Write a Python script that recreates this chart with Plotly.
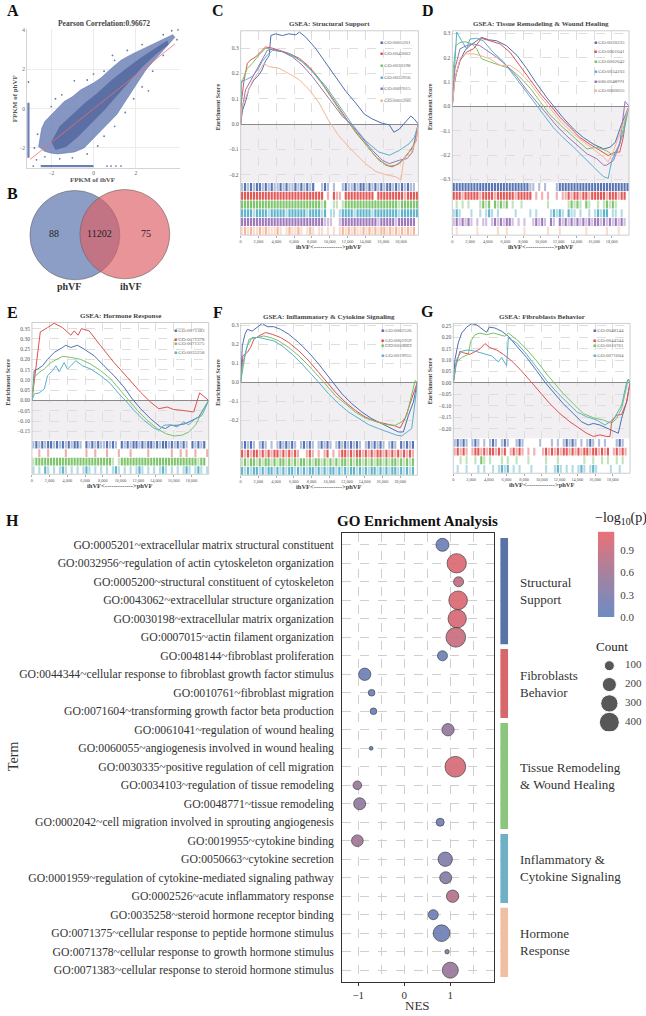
import plotly.graph_objects as go

W, H = 646, 1016
SERIF = "Liberation Serif"
XMAX = 19.95  # ranked gene list length (thousands)

# ---------------- A: FPKM correlation ----------------
pearson_r = "0.96672"
cloud_x = [-2.6, -2.45, -2.3, -1.9, -1.4, -1.0, -0.6, 0.0, 0.35, 0.8, 1.3, 1.8, 2.2, 2.6, 3.0, 3.4, 3.75,
           3.85, 3.5, 3.15, 2.8, 2.5, 2.1, 1.75, 1.4, 1.1, 0.7, 0.35, -0.05, -0.45, -0.9, -1.25, -1.7, -2.05, -2.35]
cloud_y = [-1.95, -1.0, -0.65, -0.2, 0.35, 0.6, 0.95, 1.3, 1.55, 2.0, 2.45, 2.75, 2.95, 3.15, 3.35, 3.55, 3.75,
           3.62, 3.2, 2.8, 2.35, 2.0, 1.35, 0.8, 0.2, -0.3, -0.75, -1.15, -1.6, -2.0, -2.2, -2.25, -2.3, -2.25, -2.15]
core_x = [-2.0, -1.6, -1.0, -0.4, 0.2, 0.8, 1.5, 2.2, 2.9, 3.5, 3.55, 2.95, 2.3, 1.7, 1.1, 0.5, -0.1, -0.7, -1.3, -1.8]
core_y = [-1.7, -0.9, -0.3, 0.3, 0.8, 1.4, 2.0, 2.55, 3.05, 3.45, 3.25, 2.75, 2.1, 1.35, 0.6, -0.1, -0.75, -1.4, -1.95, -2.1]
spread_x = [-0.91, 0.0, -3.08, -2.8, -2.65, -2.0, -1.5, -0.3, 0.5, 1.0, 1.6, 2.3, 3.3, 4.0, 3.7, 3.95, 3.3, 2.8,
            2.3, 1.9, 1.5, 1.0, 0.5, 0.2, -0.3, -1.0, -1.6, -2.3, -2.7, 2.6, -1.8, 0.9, 0.64, 0.83, 1.06, 1.3, -2.85]
spread_y = [1.41, 1.75, 1.35, -2.0, -1.3, 0.1, 0.7, 1.45, 1.9, 2.45, 2.95, 3.25, 3.75, 4.0, 3.95, 3.5, 2.7, 1.9,
            1.1, 0.5, -0.2, -0.9, -1.4, -1.9, -2.3, -2.5, -2.55, -2.45, -2.6, 0.9, 0.5, 2.7, -2.92, -2.92, -2.92, -2.92, -2.92]
floor_left_x = [-3.08, -3.08]
floor_left_y = [-2.5, 0.3]
floor_bottom_x = [-2.5, 0.0]
floor_bottom_y = [-2.92, -2.92]
fit_x = [-3.0, 3.85]
fit_y = [-2.58, 3.28]
a_xticks = [-2, 0, 2]
a_yticks = [-2, 0, 2, 4]

# ---------------- B: Venn ----------------
venn_sets = ["phVF", "ihVF"]
venn_counts = ["88", "11202", "75"]

# ---------------- C-G: GSEA running scores (x in thousands of ranks) ----------------
gsea_colors = ["#4f6faf", "#e0504f", "#79c165", "#5aafc9", "#9a73b8", "#f4b496"]
rank_ticks = [0, 2, 4, 6, 8, 10, 12, 14, 16, 18]
rank_ticktext = ["0", "2,000", "4,000", "6,000", "8,000", "10,000", "12,000", "14,000", "16,000", "18,000"]

C_curves = {
    "GO:0005201": ([0, 0.19, 0.56, 0.94, 1.5, 2.06, 2.4, 2.8, 3.2, 3.4, 3.9, 4.7, 5.4, 6.2, 6.6, 7.3, 8.4, 9.6, 10.7, 11.8, 12.9, 13.9, 14.8, 15.9, 16.7, 17.2, 17.8, 18.5, 19.1, 19.5, 19.95],
                   [0, 0.052, 0.09, 0.14, 0.175, 0.195, 0.214, 0.25, 0.27, 0.35, 0.357, 0.35, 0.357, 0.353, 0.364, 0.344, 0.3, 0.24, 0.18, 0.13, 0.084, 0.039, 0.02, 0.003, -0.003, -0.032, -0.02, 0.006, 0.032, 0.02, 0]),
    "GO:0043062": ([0, 0.1, 0.37, 0.75, 1.1, 1.7, 2.25, 2.8, 3.6, 4.3, 5.4, 6.6, 7.7, 8.8, 9.9, 11, 12, 12.9, 14, 15.2, 16.3, 17, 17.8, 18.5, 19.3, 19.7, 19.95],
                   [0, 0.09, 0.17, 0.24, 0.253, 0.266, 0.286, 0.305, 0.3, 0.292, 0.28, 0.26, 0.227, 0.18, 0.123, 0.065, 0.013, -0.032, -0.078, -0.13, -0.162, -0.169, -0.156, -0.13, -0.09, -0.065, 0]),
    "GO:0030198": ([0, 0.07, 0.37, 0.75, 1.3, 2.06, 2.8, 3.6, 4.7, 5.8, 6.9, 8.05, 9.2, 10.3, 11.4, 12.2, 13.3, 14.4, 15.5, 16.7, 17.4, 18.2, 18.7, 19.3, 19.95],
                   [0, 0.156, 0.188, 0.22, 0.24, 0.273, 0.3, 0.296, 0.286, 0.27, 0.247, 0.208, 0.156, 0.097, 0.039, 0.003, -0.045, -0.097, -0.143, -0.166, -0.162, -0.143, -0.117, -0.097, 0]),
    "GO:0032956": ([0, 0.07, 0.56, 1.3, 1.9, 2.4, 3.0, 3.6, 4.7, 5.8, 6.9, 8.05, 9.55, 11, 12.5, 14, 15.5, 16.7, 17.8, 18.9, 19.5, 19.95],
                   [0, 0.17, 0.175, 0.188, 0.214, 0.247, 0.273, 0.292, 0.286, 0.273, 0.247, 0.208, 0.15, 0.078, 0, -0.065, -0.11, -0.123, -0.104, -0.078, -0.052, 0]),
    "GO:0007015": ([0, 0.19, 0.56, 1.1, 1.7, 2.4, 3.0, 3.6, 4.7, 5.8, 6.9, 8.05, 9.2, 10.3, 11.4, 12.4, 13.7, 14.8, 15.9, 16.7, 17.8, 18.7, 19.3, 19.95],
                   [0, 0.065, 0.136, 0.17, 0.208, 0.253, 0.292, 0.296, 0.286, 0.266, 0.234, 0.188, 0.136, 0.084, 0.032, 0, -0.058, -0.104, -0.143, -0.156, -0.143, -0.136, -0.11, 0]),
    "GO:0005200": ([0, 0.1, 0.56, 1.3, 2.06, 2.6, 3.2, 4.3, 5.4, 6.6, 7.7, 8.8, 9.9, 11, 12.5, 14, 15.2, 16.3, 17.4, 18, 18.35, 19.1, 19.7, 19.95],
                   [0, 0.065, 0.104, 0.169, 0.208, 0.24, 0.227, 0.221, 0.2, 0.175, 0.136, 0.084, 0.013, -0.045, -0.104, -0.156, -0.188, -0.2, -0.208, -0.22, -0.13, -0.117, -0.065, 0]),
}
C_rugs = [
    "+#+#+##+#+#++#+#++#+#+#+#  +#+ +  +#++#+##+#+#+#+##+#+#+#++",
    "############################ + #++ ########## #########+####",
    "###########################+#  ++ +##################+######",
    "####+####+#####+######+####+# ++ +####+#####+########+######",
    "############################+++  +############+#####+######",
    "+#+#++#+#+++#+ +#++#+ +#+ ++ + + +#+#+#++#+#+#+##+#+#+#+#+#",
]

D_curves = {
    "GO:0030335": ([0, 0.11, 0.5, 0.87, 1.43, 2, 2.75, 3.3, 4.1, 5, 6.1, 7.3, 8.4, 9.5, 10.7, 11.6, 12.5, 13.7, 14.8, 15.9, 17.1, 17.8, 18.4, 19.1, 19.7, 19.95],
                   [0, 0.074, 0.141, 0.188, 0.229, 0.249, 0.269, 0.283, 0.273, 0.269, 0.249, 0.209, 0.155, 0.094, 0.034, -0.007, -0.047, -0.094, -0.128, -0.155, -0.175, -0.168, -0.148, -0.074, -0.02, 0]),
    "GO:0061041": ([0, 0.3, 0.87, 1.6, 2.4, 2.9, 3.3, 4.25, 5.4, 6.5, 7.6, 8.8, 9.9, 11, 12.2, 13.3, 14.4, 15.5, 16.7, 17.6, 18.4, 18.9, 19.3, 19.6, 19.95],
                   [0, 0.114, 0.188, 0.222, 0.236, 0.262, 0.279, 0.269, 0.256, 0.222, 0.168, 0.108, 0.054, 0.007, -0.047, -0.087, -0.128, -0.155, -0.182, -0.202, -0.188, -0.188, -0.128, -0.04, 0]),
    "GO:0002042": ([0, 0.11, 0.4, 0.87, 1.43, 2.2, 2.75, 3.3, 4.25, 5.4, 6.5, 7.6, 8.8, 9.9, 11, 12.5, 14, 15.2, 16.3, 17.4, 18.2, 18.9, 19.5, 19.95],
                   [0, 0.155, 0.249, 0.262, 0.265, 0.256, 0.236, 0.195, 0.182, 0.168, 0.155, 0.121, 0.074, 0.02, -0.034, -0.087, -0.135, -0.175, -0.168, -0.182, -0.202, -0.155, -0.061, 0]),
    "GO:0034103": ([0, 0.19, 0.5, 1.05, 1.6, 2, 2.75, 3.5, 4.6, 5.8, 6.9, 8, 9.1, 10.3, 11.4, 12.5, 13.7, 14.8, 15.9, 16.7, 17.1, 17.6, 18, 18.7, 19.3, 19.7, 19.95],
                   [0, 0.114, 0.305, 0.269, 0.236, 0.276, 0.279, 0.269, 0.222, 0.182, 0.128, 0.074, 0.02, -0.034, -0.087, -0.128, -0.168, -0.209, -0.249, -0.276, -0.289, -0.296, -0.222, -0.168, -0.114, -0.034, 0]),
    "GO:0048771": ([0, 0.3, 0.87, 1.6, 2.4, 3.1, 3.9, 5, 6.1, 7.3, 8.4, 9.5, 10.7, 11.8, 12.9, 14, 15.2, 16.3, 17.1, 17.4, 18.2, 18.9, 19.4, 19.5, 19.95],
                   [0, 0.155, 0.236, 0.249, 0.256, 0.249, 0.229, 0.202, 0.168, 0.121, 0.067, 0.02, -0.034, -0.081, -0.121, -0.155, -0.195, -0.215, -0.242, -0.242, -0.222, -0.155, -0.007, 0.02, 0]),
    "GO:0060055": ([0, 0.3, 0.87, 1.43, 2.4, 3.1, 4.25, 5.4, 6.5, 7.6, 8.8, 9.9, 11, 12.2, 13.7, 15.2, 16.3, 17.1, 17.6, 18.2, 18.9, 19.7, 19.95],
                   [0, 0.114, 0.195, 0.215, 0.215, 0.209, 0.195, 0.168, 0.168, 0.141, 0.094, 0.04, -0.007, -0.061, -0.114, -0.155, -0.188, -0.209, -0.229, -0.182, -0.114, -0.02, 0]),
}
D_rugs = [
    "##########################++ + +   +########################",
    "###+#####+####+######+##### + + +  + ++#+##+##+#####+###+##",
    " + + +   +#+# #+#+# +  +        +      +#+#+ #+  + +#+#+   ",
    "+#+   +  + +#+ +     +    + +    +#+#+ #++ +  + +#+## ++ + ",
    "+#+#+#+ + ++ +#+#+##+ + +  +#+#+ #+ #+#+#+#+#+#+##+#+#+#+#+",
    " +      +      +  +     +       +   +        +      +   +   ",
]

E_curves = {
    "GO:0071383": ([0, 0.26, 0.64, 1.2, 1.76, 2.51, 3.45, 3.82, 4.39, 5.14, 5.89, 7.01, 8.14, 9.26, 10.39, 11.32, 12.26, 13.39, 14.51, 15.07, 15.64, 16.39, 17.32, 18.07, 18.82, 19.39, 19.95],
                   [0, 0.145, 0.153, 0.169, 0.2, 0.234, 0.258, 0.269, 0.258, 0.269, 0.25, 0.218, 0.169, 0.121, 0.065, 0.008, -0.04, -0.089, -0.129, -0.137, -0.121, -0.121, -0.113, -0.097, -0.081, -0.04, 0]),
    "GO:0071378": ([0, 0.45, 0.94, 1.76, 2.51, 3.45, 4.39, 4.76, 5.21, 5.59, 6.45, 7.76, 9.26, 10.76, 12.26, 13.39, 14.32, 15.26, 16.01, 16.95, 18.26, 18.93, 19.46, 19.95],
                   [0, 0.153, 0.334, 0.355, 0.376, 0.355, 0.318, 0.339, 0.318, 0.35, 0.339, 0.266, 0.185, 0.113, 0.04, -0.008, -0.04, -0.032, -0.044, -0.048, -0.056, 0.037, 0.016, 0]),
    "GO:0071375": ([0, 0.26, 0.82, 1.39, 2.14, 2.89, 3.45, 4.39, 5.51, 6.64, 7.76, 8.89, 10.01, 10.95, 11.89, 13.01, 14.14, 15.07, 16.01, 16.95, 17.7, 18.45, 19.2, 19.95],
                   [0, 0.113, 0.137, 0.153, 0.185, 0.2, 0.215, 0.21, 0.2, 0.177, 0.145, 0.105, 0.048, 0, -0.048, -0.097, -0.137, -0.161, -0.173, -0.169, -0.153, -0.121, -0.056, 0]),
    "GO:0035258": ([0, 0.26, 0.82, 1.39, 1.76, 2.32, 2.7, 3.07, 3.64, 4.01, 4.39, 4.95, 5.7, 6.64, 7.76, 8.89, 9.82, 10.57, 11.51, 12.64, 13.76, 14.32, 14.89, 15.64, 16.39, 17.14, 17.7, 18.45, 19.2, 19.95],
                   [0, 0.032, 0.037, 0.056, 0.121, 0.145, 0.169, 0.14, 0.185, 0.153, 0.169, 0.194, 0.169, 0.153, 0.121, 0.081, 0.032, 0, -0.048, -0.097, -0.134, -0.145, -0.121, -0.118, -0.129, -0.105, -0.118, -0.089, -0.073, 0]),
}
E_rugs = [
    "+#+#+##+#+#+#+##+ #+#+#++#+#+ #+#+##+#+##+#+##+#+#+#+ #+#+#",
    "  +  +     +      +  +   +   +   +     +       +  + +  +   +",
    "+##########################+ +##########################+##",
    "+ + #+ + +#+ + + +#+ + + + +#+ + + +#+ + + +#+ + + +#+ +#+ +",
]

F_curves = {
    "GO:0002526": ([0, 0.19, 0.49, 0.75, 1.31, 1.87, 2.44, 3.0, 3.75, 4.5, 5.44, 6.56, 7.69, 8.81, 9.94, 10.5, 11.44, 12.56, 13.69, 14.81, 15.94, 17.06, 17.81, 18.37, 18.94, 19.5, 19.95],
                   [0, 0.192, 0.253, 0.279, 0.27, 0.288, 0.31, 0.293, 0.293, 0.279, 0.253, 0.209, 0.157, 0.096, 0.026, -0.009, -0.061, -0.113, -0.157, -0.192, -0.218, -0.244, -0.262, -0.262, -0.175, -0.105, 0]),
    "GO:0001959": ([0, 0.26, 0.75, 1.12, 1.5, 2.06, 2.81, 3.56, 4.5, 5.44, 6.56, 7.69, 8.81, 9.75, 10.69, 11.81, 12.94, 14.06, 15.19, 16.31, 17.44, 18.0, 18.56, 19.31, 19.95],
                   [0, 0.14, 0.157, 0.183, 0.227, 0.244, 0.262, 0.253, 0.236, 0.209, 0.166, 0.113, 0.052, 0, -0.052, -0.105, -0.148, -0.183, -0.206, -0.218, -0.23, -0.241, -0.192, -0.087, 0]),
    "GO:0050663": ([0, 0.19, 0.56, 0.94, 1.69, 2.62, 3.37, 4.31, 5.44, 6.56, 7.69, 8.81, 9.56, 10.69, 11.81, 12.94, 14.06, 15.19, 16.31, 17.44, 18.19, 18.75, 19.31, 19.69, 19.95],
                   [0, 0.052, 0.157, 0.227, 0.236, 0.244, 0.236, 0.218, 0.183, 0.14, 0.087, 0.026, -0.009, -0.07, -0.113, -0.157, -0.188, -0.206, -0.223, -0.227, -0.209, -0.175, -0.07, 0.009, 0]),
    "GO:0019955": ([0, 0.19, 0.75, 1.31, 2.06, 2.81, 3.75, 4.69, 5.81, 6.94, 8.06, 8.81, 9.94, 11.06, 12.19, 13.31, 14.44, 15.56, 16.69, 17.62, 18.19, 18.75, 19.31, 19.69, 19.95],
                   [0, 0.087, 0.192, 0.236, 0.236, 0.227, 0.218, 0.192, 0.148, 0.096, 0.035, 0, -0.061, -0.113, -0.157, -0.192, -0.223, -0.244, -0.262, -0.279, -0.283, -0.262, -0.244, -0.105, 0]),
}
F_rugs = [
    "+#+#+ +#+ + +#+#+#+ +#+#+ +#+#+ +#+#+#+#+ +#+#+#+ +#+ #+#+#",
    "#+#+##+#+#+##+#+#+#+  +#+ + +# + +##+#+##+#+#+##+#+#+#+#+#+",
    "+#+##+#+##+#+##+#+#+##+#+##+#+#+#+##+#+##+#+#+##+#+##+#+#+#",
    "#+#+##+#+##+#+#+##+#+#+##+#+#+##+#+#+##+#+#+##+#+#+##+#+#+#",
]

G_curves = {
    "GO:0048144": ([0, 0.19, 0.56, 0.94, 1.51, 2.07, 2.63, 3.39, 3.76, 4.06, 4.7, 5.46, 6.21, 7.15, 8.28, 9.41, 10.35, 11.29, 12.42, 13.55, 14.49, 15.24, 15.81, 16.56, 17.31, 18.07, 18.63, 19.0, 19.57, 19.95],
                   [0, 0.103, 0.175, 0.218, 0.244, 0.259, 0.254, 0.233, 0.221, 0.244, 0.24, 0.226, 0.204, 0.161, 0.111, 0.053, 0.003, -0.04, -0.091, -0.134, -0.17, -0.184, -0.177, -0.184, -0.198, -0.213, -0.22, -0.155, -0.083, 0]),
    "GO:0044344": ([0, 0.3, 0.75, 1.13, 1.88, 2.45, 3.01, 3.58, 4.14, 4.89, 5.65, 6.59, 7.53, 8.66, 9.79, 10.91, 12.04, 13.17, 14.3, 15.05, 15.81, 16.56, 17.31, 17.69, 17.88, 18.44, 19.0, 19.57, 19.95],
                   [0, 0.075, 0.139, 0.132, 0.125, 0.139, 0.149, 0.172, 0.154, 0.144, 0.125, 0.096, 0.06, 0.01, -0.04, -0.091, -0.134, -0.17, -0.2, -0.22, -0.234, -0.227, -0.234, -0.234, -0.17, -0.141, -0.138, -0.083, 0]),
    "GO:0010761": ([0, 0.3, 0.94, 1.69, 1.96, 2.45, 3.01, 3.76, 4.52, 5.27, 5.83, 6.21, 7.15, 8.28, 9.41, 10.54, 11.48, 12.42, 13.55, 14.68, 15.81, 16.94, 17.88, 18.44, 19.0, 19.57, 19.76, 19.95],
                   [0, 0.089, 0.111, 0.125, 0.182, 0.211, 0.218, 0.211, 0.218, 0.211, 0.204, 0.218, 0.19, 0.147, 0.096, 0.039, -0.004, -0.047, -0.091, -0.134, -0.152, -0.162, -0.177, -0.155, -0.112, -0.011, 0.017, 0]),
    "GO:0071604": ([0, 0.38, 0.94, 1.69, 2.45, 3.39, 4.33, 5.08, 5.46, 6.02, 6.21, 7.15, 8.28, 9.41, 10.54, 11.67, 12.8, 13.93, 15.05, 16.18, 17.12, 17.69, 18.25, 19.0, 19.57, 19.76, 19.95],
                   [0, 0.103, 0.139, 0.144, 0.139, 0.129, 0.118, 0.092, 0.111, 0.075, 0.197, 0.175, 0.125, 0.068, 0.01, -0.04, -0.083, -0.126, -0.148, -0.162, -0.184, -0.17, -0.148, -0.098, 0.003, 0.017, 0]),
}
G_rugs = [
    "+#+#+ +#+ + +#+ +#+  +#+     +   + + +#+#+ + +#+ + +   +#+ ",
    "+#+#+ +##+#+##+#+# +#+#+ + +  +#+#+#+##+#+#+##+##+#+# +#+#+",
    "  + +  + #+ +   + +  +   +     +   +        +  +  + +  + +  ",
    " +  +   + +  + +#+# + +   +    +  +#+ + + +#+ +#+    +  +  ",
]

C_yticks = [-0.2, -0.1, 0.0, 0.1, 0.2, 0.3]
D_yticks = [-0.3, -0.2, -0.1, 0.0, 0.1, 0.2, 0.3]
E_yticks = [-0.15, -0.10, -0.05, 0.00, 0.05, 0.10, 0.15, 0.20, 0.25, 0.30, 0.35]
F_yticks = [-0.2, -0.1, 0.0, 0.1, 0.2, 0.3]
G_yticks = [-0.20, -0.15, -0.10, -0.05, 0.00, 0.05, 0.10, 0.15, 0.20, 0.25]

# ---------------- H: GO enrichment ----------------
terms = [
    "GO:0005201~extracellular matrix structural constituent",
    "GO:0032956~regulation of actin cytoskeleton organization",
    "GO:0005200~structural constituent of cytoskeleton",
    "GO:0043062~extracellular structure organization",
    "GO:0030198~extracellular matrix organization",
    "GO:0007015~actin filament organization",
    "GO:0048144~fibroblast proliferation",
    "GO:0044344~cellular response to fibroblast growth factor stimulus",
    "GO:0010761~fibroblast migration",
    "GO:0071604~transforming growth factor beta production",
    "GO:0061041~regulation of wound healing",
    "GO:0060055~angiogenesis involved in wound healing",
    "GO:0030335~positive regulation of cell migration",
    "GO:0034103~regulation of tissue remodeling",
    "GO:0048771~tissue remodeling",
    "GO:0002042~cell migration involved in sprouting angiogenesis",
    "GO:0019955~cytokine binding",
    "GO:0050663~cytokine secretion",
    "GO:0001959~regulation of cytokine-mediated signaling pathway",
    "GO:0002526~acute inflammatory response",
    "GO:0035258~steroid hormone receptor binding",
    "GO:0071375~cellular response to peptide hormone stimulus",
    "GO:0071378~cellular response to growth hormone stimulus",
    "GO:0071383~cellular response to steroid hormone stimulus",
]
nes = [0.83, 1.14, 1.18, 1.17, 1.15, 1.12, 0.83, -0.86, -0.71, -0.67, 0.95, -0.72,
       1.11, -1.02, -0.97, 0.78, -1.02, 0.89, 0.90, 1.05, 0.63, 0.81, 0.93, 1.00]
counts = [169, 373, 100, 348, 336, 387, 100, 152, 44, 44, 152, 14,
          430, 75, 144, 64, 136, 205, 144, 152, 100, 278, 19, 256]
logp = [0.10, 1.05, 0.85, 1.05, 1.02, 0.90, 0.10, 0.12, 0.08, 0.08, 0.45, 0.05,
        1.00, 0.55, 0.45, 0.15, 0.60, 0.30, 0.35, 0.75, 0.10, 0.12, 0.45, 0.55]
groups = ["Structural<br>Support", "Fibroblasts<br>Behavior", "Tissue Remodeling<br>& Wound Healing",
          "Inflammatory &<br>Cytokine Signaling", "Hormone<br>Response"]
group_sizes = [6, 4, 6, 4, 4]
group_colors = ["#5a73a6", "#d8676b", "#8dc57f", "#6fb0c4", "#efbfa3"]
count_legend = [100, 200, 300, 400]
cbar_ticks = [0.0, 0.3, 0.6, 0.9]
LOGP_MAX = 1.15
BUBBLE_SCALE = [[0, "#6182bf"], [0.5, "#9e7898"], [1, "#e8666c"]]


def px_x(a):
    return a / W


def px_y(b):
    return 1 - b / H


def dom_x(a, b):
    return [a / W, b / W]


def dom_y(top, bottom):
    return [1 - bottom / H, 1 - top / H]


fig = go.Figure()
ann = []
shapes = []


def text(x, y, s, size, bold=False, color="#333", angle=0, xanchor="center", font=SERIF):
    ann.append(dict(x=px_x(x), y=px_y(y), xref="paper", yref="paper", showarrow=False,
                    text=f"<b>{s}</b>" if bold else s, textangle=angle, xanchor=xanchor, yanchor="middle",
                    font=dict(family=font, size=size, color=color)))


# ---- panel letters
for letter, (lx, ly) in zip("ABCDEFGH", [(12, 9), (12, 193), (217, 9), (428, 9), (12, 313), (217, 313), (427, 312), (12, 523)]):
    text(lx, ly, letter, 16, bold=True, color="#111")

# ---- A
fig.add_trace(go.Scatter(x=cloud_x, y=cloud_y, fill="toself", mode="lines", line=dict(width=0.8, color="rgba(104,124,178,0.8)"),
                         fillcolor="rgba(112,132,184,0.85)", xaxis="x", yaxis="y", showlegend=False, hoverinfo="skip"))
fig.add_trace(go.Scatter(x=core_x, y=core_y, fill="toself", mode="lines", line=dict(width=0),
                         fillcolor="rgba(86,106,162,0.9)", xaxis="x", yaxis="y", showlegend=False, hoverinfo="skip"))
fig.add_trace(go.Scatter(x=spread_x, y=spread_y, mode="markers", marker=dict(size=1.8, color="#6679b0"),
                         xaxis="x", yaxis="y", showlegend=False, hoverinfo="skip"))
for fx, fy in [(floor_left_x, floor_left_y), (floor_bottom_x, floor_bottom_y)]:
    fig.add_trace(go.Scatter(x=fx, y=fy, mode="lines", line=dict(width=2.2, color="#6d80b5"),
                             xaxis="x", yaxis="y", showlegend=False, hoverinfo="skip"))
fig.add_trace(go.Scatter(x=fit_x, y=fit_y, mode="lines", line=dict(width=0.8, color="#ec6e6e"),
                         xaxis="x", yaxis="y", showlegend=False, hoverinfo="skip"))
axis_a = dict(showgrid=True, gridcolor="#ececec", gridwidth=0.6, zeroline=False, showline=True, linecolor="#d4d4d4",
              linewidth=0.6, ticks="", tickfont=dict(family=SERIF, size=5.5, color="#666"))
fig.update_layout(
    xaxis=dict(domain=dom_x(26, 179), range=[-3.15, 4.08], tickvals=a_xticks, anchor="y", ticklabelstandoff=0, **axis_a),
    yaxis=dict(domain=dom_y(27, 167), range=[-3.0, 4.05], tickvals=a_yticks, anchor="x", **axis_a),
)
text(103, 22, f"Pearson Correlation:{pearson_r}", 7.5, bold=True, color="#444")
text(92, 179, "FPKM of ihVF", 7, bold=True, color="#555")
text(14, 97, "FPKM of phVF", 7, bold=True, color="#555", angle=-90)

# ---- B: Venn (pixel-unit axis)
fig.update_layout(
    xaxis2=dict(domain=dom_x(0, 200), range=[0, 200], visible=False, anchor="y2"),
    yaxis2=dict(domain=dom_y(180, 300), range=[300, 180], visible=False, anchor="x2"),
)
venn_circles = [((74, 235), "rgba(95,120,175,0.72)"), ((124, 234), "rgba(222,92,98,0.66)")]
for (cx, cy), col in venn_circles:
    shapes.append(dict(type="circle", xref="x2", yref="y2", x0=cx - 45, x1=cx + 45, y0=cy - 45, y1=cy + 45,
                       fillcolor=col, line=dict(color="#666", width=0.6)))
for (tx, cnt) in zip([53, 99, 145], venn_counts):
    ann.append(dict(x=tx, y=233, xref="x2", yref="y2", text=cnt, showarrow=False,
                    font=dict(family=SERIF, size=10, color="#222")))
for (tx, name) in zip([68, 130], venn_sets):
    ann.append(dict(x=tx, y=287, xref="x2", yref="y2", text=f"<b>{name}</b>", showarrow=False,
                    font=dict(family=SERIF, size=10, color="#333")))

# ---- C-G: GSEA panels
panels = [
    # axis number, box (left, right, top, mid, bottom), title, curves, rugs, yrange, ticks, fmt, legend (x, y0, gap)
    (3, (240, 418, 29, 182, 235), "GSEA: Structural Support", C_curves, C_rugs, [-0.231, 0.369], C_yticks, ".1f", (378, 36, 11.7)),
    (5, (452, 629, 29, 182, 235), "GSEA: Tissue Remodeling &amp; Wound Healing", D_curves, D_rugs, [-0.313, 0.31], D_yticks, ".1f", (592, 36, 9.8)),
    (7, (31, 208, 323, 442, 476), "GSEA: Hormone Response", E_curves, E_rugs, [-0.195, 0.38], E_yticks, ".2f", (171, 327, 8.7)),
    (9, (240, 417, 324, 442, 477), "GSEA: Inflammatory &amp; Cytokine Signaling", F_curves, F_rugs, [-0.307, 0.31], F_yticks, ".1f", (379, 327, 9.8)),
    (11, (453, 630, 324, 440, 475), "GSEA: Fibroblasts Behavior", G_curves, G_rugs, [-0.243, 0.26], G_yticks, ".2f", (591, 327, 9.7)),
]
bw = XMAX / 60
for n, (left, right, top, mid, bottom), title, curves, rugs, yr, yt, fmt, (lgx, lgy, lgap) in panels:
    xa, ya, xr, yrg = f"x{n}", f"y{n}", f"x{n + 1}", f"y{n + 1}"
    fig.update_layout(**{
        f"xaxis{n}": dict(domain=dom_x(left, right), anchor=ya, range=[0, XMAX], tickvals=rank_ticks, showticklabels=False,
                          ticks="", showgrid=True, griddash="dash", gridcolor="#dedede", gridwidth=0.5, zeroline=False),
        f"yaxis{n}": dict(domain=dom_y(top, mid), anchor=xa, range=yr, tickvals=yt, tickformat=fmt, ticks="",
                          tickfont=dict(family=SERIF, size=5.5, color="#555"), showgrid=True, griddash="dash",
                          gridcolor="#dedede", gridwidth=0.5, zeroline=True, zerolinecolor="#8a8a8a", zerolinewidth=1,
                          ticklabelstandoff=1),
        f"xaxis{n + 1}": dict(domain=dom_x(left, right), anchor=yrg, matches=xa, range=[0, XMAX], tickvals=rank_ticks,
                              ticktext=rank_ticktext, tickfont=dict(family=SERIF, size=4.3, color="#555"), ticks="outside",
                              ticklen=2, tickcolor="#aaa", tickwidth=0.5, showgrid=False, zeroline=False, ticklabelstandoff=0),
        f"yaxis{n + 1}": dict(domain=dom_y(mid, bottom), anchor=xr, range=[len(rugs), 0], visible=False),
    })
    shapes.append(dict(type="rect", xref=f"{xa} domain", yref=ya, x0=0, x1=1, y0=yr[0], y1=0,
                       fillcolor="#f1eff2", line=dict(width=0), layer="below"))
    shapes.append(dict(type="rect", xref="paper", yref="paper", x0=px_x(left), x1=px_x(right), y0=px_y(bottom), y1=px_y(top),
                       line=dict(color="#b8b8b8", width=0.7)))
    for i, (gid, (xs, ys)) in enumerate(curves.items()):
        fig.add_trace(go.Scatter(x=xs, y=ys, mode="lines", line=dict(color=gsea_colors[i], width=1),
                                 xaxis=xa, yaxis=ya, showlegend=False, hoverinfo="skip"))
        ann.append(dict(x=px_x(lgx), y=px_y(lgy + i * lgap), xref="paper", yref="paper", showarrow=False, xanchor="left",
                        text=f"<span style='color:{gsea_colors[i]}'>■</span> {gid}",
                        font=dict(family=SERIF, size=5, color="#666")))
    for i, pat in enumerate(rugs):
        pat = pat.ljust(60)[:60]
        bins = [j for j, ch in enumerate(pat) if ch in "#+"]
        col = gsea_colors[i]
        rgb = tuple(int(col[k:k + 2], 16) for k in (1, 3, 5))
        cols = [f"rgba({rgb[0]},{rgb[1]},{rgb[2]},{0.95 if pat[j] == '#' else 0.45})" for j in bins]
        fig.add_trace(go.Bar(x=[(j + 0.5) * bw for j in bins], y=[0.9] * len(bins), base=[i + 0.05] * len(bins),
                             width=bw * 0.72, marker=dict(color=cols, line=dict(width=0)),
                             xaxis=xr, yaxis=yrg, showlegend=False, hoverinfo="skip"))
    cx = (left + right) / 2
    text(cx, top - 7, title, 7, bold=True, color="#444")
    text(cx, bottom + 11, "ihVF&lt;-------------&gt;phVF", 6.5, bold=True, color="#444")
    text(left - 23, (top + mid) / 2, "Enrichment Score", 6, bold=True, color="#444", angle=-90)

# ---- H: bubble chart
rows = list(range(len(terms)))
fig.add_trace(go.Scatter(
    x=nes, y=rows, mode="markers", xaxis="x13", yaxis="y13", showlegend=False, hoverinfo="skip",
    marker=dict(size=counts, sizemode="area", sizeref=2.0, color=logp, cmin=0, cmax=LOGP_MAX,
                colorscale=BUBBLE_SCALE, opacity=0.92, showscale=False,
                line=dict(color="#333", width=0.7))))
fig.update_layout(
    xaxis13=dict(domain=dom_x(341.7, 493.3), range=[-1.35, 1.94], tickvals=[-1, 0, 1], anchor="y13",
                 ticks="outside", ticklen=3, tickcolor="#333", showline=True, mirror=True, linecolor="#333", linewidth=1,
                 showgrid=True, griddash="dash", gridcolor="#cfcfcf", gridwidth=0.8, zeroline=False, ticklabelstandoff=0,
                 minor=dict(dtick=0.5, tick0=0, showgrid=True, griddash="dash", gridcolor="#cfcfcf", gridwidth=0.8, ticks=""),
                 tickfont=dict(family=SERIF, size=11, color="#333")),
    yaxis13=dict(domain=dom_y(535, 988), range=[len(terms) - 0.35, -0.65], tickvals=rows, ticktext=terms, anchor="x13",
                 ticks="", showline=True, mirror=True, linecolor="#333", linewidth=1, showgrid=True, griddash="dash",
                 gridcolor="#cfcfcf", gridwidth=0.8, zeroline=False, ticklabelstandoff=5,
                 tickfont=dict(family=SERIF, size=11.7, color="#333")),
    xaxis14=dict(domain=dom_x(500, 508), range=[-0.5, 0.5], visible=False, anchor="y13"),
)
starts = [sum(group_sizes[:k]) for k in range(len(group_sizes))]
gap = 0.13
fig.add_trace(go.Bar(x=[0] * len(groups), y=[s - 2 * gap for s in group_sizes], base=[st - 0.5 + gap for st in starts],
                     width=1, marker=dict(color=group_colors, line=dict(width=0)), xaxis="x14", yaxis="y13",
                     showlegend=False, hoverinfo="skip"))
for g, st, sz in zip(groups, starts, group_sizes):
    ann.append(dict(x=px_x(518), y=st + (sz - 1) / 2, xref="paper", yref="y13", showarrow=False, xanchor="left",
                    align="left", text=g, font=dict(family=SERIF, size=13, color="#333")))
text(417, 523, "GO Enrichment Analysis", 15, bold=True, color="#111")
text(417, 1011, "NES", 13, color="#333")
text(12, 760, "Term", 14, color="#333", angle=-90)

# colour key for -log10(p), drawn as a gradient strip on its own axis
levels = [LOGP_MAX * k / 80 for k in range(81)]
fig.add_trace(go.Heatmap(z=[[lv] for lv in levels], y=levels, x=[0], xaxis="x16", yaxis="y16", colorscale=BUBBLE_SCALE,
                         zmin=0, zmax=LOGP_MAX, showscale=False, hoverinfo="skip", opacity=0.92))
fig.update_layout(
    xaxis16=dict(domain=dom_x(597.7, 614.3), range=[-0.5, 0.5], visible=False, anchor="y16"),
    yaxis16=dict(domain=dom_y(534, 620), range=[0, LOGP_MAX], anchor="x16", side="right", tickvals=cbar_ticks,
                 tickformat=".1f", ticks="", showgrid=False, zeroline=False, showline=False, ticklabelstandoff=5,
                 tickfont=dict(family=SERIF, size=11, color="#444")),
)
text(621, 521, "\u2212log<sub>10</sub>(p)", 14, color="#222")

# count legend
fig.update_layout(
    xaxis15=dict(domain=dom_x(598, 646), range=[0, 48], visible=False, anchor="y15"),
    yaxis15=dict(domain=dom_y(660, 735), range=[75, 0], visible=False, anchor="x15"),
)
leg_y = [9 + 19 * i for i in range(len(count_legend))]
fig.add_trace(go.Scatter(x=[11.3] * len(count_legend), y=leg_y, mode="markers", xaxis="x15", yaxis="y15",
                         marker=dict(size=count_legend, sizemode="area", sizeref=2.0, color="#111"),
                         showlegend=False, hoverinfo="skip"))
fig.add_trace(go.Scatter(x=[27] * len(count_legend), y=leg_y, mode="text", text=[str(c) for c in count_legend],
                         textposition="middle right", textfont=dict(family=SERIF, size=11, color="#444"),
                         xaxis="x15", yaxis="y15", showlegend=False, hoverinfo="skip"))
text(611.7, 650, "Count", 13, color="#222")

fig.update_layout(width=W, height=H, margin=dict(l=0, r=0, t=0, b=0), paper_bgcolor="white", plot_bgcolor="white",
                  barmode="overlay", annotations=ann, shapes=shapes, showlegend=False,
                  font=dict(family=SERIF))
fig.write_html("out.html", config={"displayModeBar": False}, post_script="document.body.style.margin='0';")
